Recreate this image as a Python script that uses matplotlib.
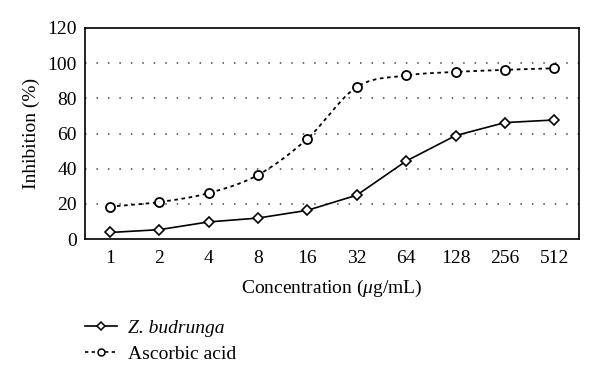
import numpy as np
import matplotlib
matplotlib.use("Agg")
import matplotlib.pyplot as plt
from matplotlib.lines import Line2D

plt.rcParams['font.family'] = ['Liberation Serif', 'DejaVu Serif']
plt.rcParams['mathtext.fontset'] = 'custom'
plt.rcParams['mathtext.rm'] = 'Liberation Serif'
plt.rcParams['mathtext.it'] = 'Liberation Serif:italic'

concentrations = ["1", "2", "4", "8", "16", "32", "64", "128", "256", "512"]
z_budrunga = [3.7, 5.3, 9.7, 11.9, 16.3, 24.9, 44.3, 58.8, 66.2, 67.7]
ascorbic_acid = [18.4, 21.0, 26.1, 36.4, 57.0, 86.4, 93.0, 95.0, 96.2, 97.1]
y_ticks = [0, 20, 40, 60, 80, 100, 120]


def catmull_rom(x, y, n=30):
    x = np.asarray(x, float)
    y = np.asarray(y, float)
    px = np.concatenate([[2 * x[0] - x[1]], x, [2 * x[-1] - x[-2]]])
    py = np.concatenate([[2 * y[0] - y[1]], y, [2 * y[-1] - y[-2]]])
    xs, ys = [], []
    t = np.linspace(0, 1, n)
    for i in range(1, len(px) - 2):
        for p, out in ((px, xs), (py, ys)):
            p0, p1, p2, p3 = p[i - 1], p[i], p[i + 1], p[i + 2]
            out.extend(0.5 * ((2 * p1) + (-p0 + p2) * t
                              + (2 * p0 - 5 * p1 + 4 * p2 - p3) * t ** 2
                              + (-p0 + 3 * p1 - 3 * p2 + p3) * t ** 3))
    return np.array(xs), np.array(ys)


fig = plt.figure(figsize=(6, 3.79), dpi=100)
ax = fig.add_axes([85 / 600, 1 - 239 / 379, 494 / 600, 211 / 379])

xpos = np.arange(len(concentrations))
fs = 14

# grid
for v in y_ticks[1:-1]:
    ax.axhline(v, color='#444444', lw=1.1, linestyle=(0, (1, 6.5)), zorder=0)

# Z. budrunga
ax.plot(xpos, z_budrunga, color='black', lw=1.2, marker='D', markersize=5,
        markerfacecolor='white', markeredgecolor='black', markeredgewidth=1.2, zorder=3)

# Ascorbic acid (smoothed)
sx, sy = catmull_rom(xpos, ascorbic_acid)
ax.plot(sx, sy, color='black', lw=1.3, linestyle=(0, (2, 2)), zorder=2)
ax.plot(xpos, ascorbic_acid, linestyle='none', marker='o', markersize=6.5,
        markerfacecolor='white', markeredgecolor='black', markeredgewidth=1.3, zorder=3)

ax.set_xlim(-0.5, len(concentrations) - 0.5)
ax.set_ylim(0, 120)
ax.set_yticks(y_ticks)
ax.set_yticklabels([str(v) for v in y_ticks], fontsize=fs)
ax.set_xticks(xpos)
ax.set_xticklabels(concentrations, fontsize=fs)
ax.tick_params(axis='both', length=0)
ax.tick_params(axis='y', pad=6)
ax.tick_params(axis='x', pad=8)
for s in ax.spines.values():
    s.set_linewidth(1.2)

ax.set_ylabel('Inhibition (%)', fontsize=fs, labelpad=5)
ax.set_xlabel(r'Concentration ($\mathit{\mu}$g/mL)', fontsize=fs, labelpad=8)

handles = [
    Line2D([], [], color='black', lw=1.2, marker='D', markersize=4,
           markerfacecolor='white', markeredgecolor='black', markeredgewidth=1.1),
    Line2D([], [], color='black', lw=1.2, linestyle=(0, (2, 2)), marker='o', markersize=5,
           markerfacecolor='white', markeredgecolor='black', markeredgewidth=1.1),
]
leg = fig.legend(handles, ['Z. budrunga', 'Ascorbic acid'], loc='upper left',
                 bbox_to_anchor=(85 / 600, 1 - 319 / 379), frameon=False, fontsize=fs,
                 handlelength=1.65, handletextpad=0.55, labelspacing=0.45,
                 borderaxespad=0, borderpad=0)
leg.get_texts()[0].set_fontstyle('italic')

fig.savefig('out.png', dpi=100)
